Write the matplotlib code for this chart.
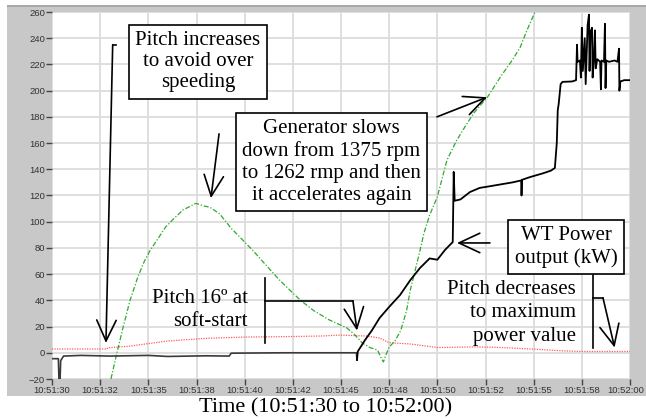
import numpy as np
import matplotlib
matplotlib.use("Agg")
import matplotlib.pyplot as plt
from matplotlib.patches import Rectangle
from matplotlib.transforms import ScaledTranslation

# series (time in s after 10:51:30)
green_t = [3.06, 3.37, 3.7, 4.05, 4.46, 4.8, 5.09, 5.45, 5.9, 6.23, 6.8, 7.47, 7.9, 8.2, 8.7,
           9.3, 9.9, 10.43, 11.1, 11.8, 12.4, 12.9, 13.6, 14.4, 15.3, 15.7, 16.1, 16.5, 16.9,
           17.05, 17.2, 17.35, 17.5, 17.8, 18.1, 18.4, 18.6, 18.85, 19.1, 19.3, 19.6, 20.0,
           20.5, 21.0, 21.5, 21.9, 22.6, 23.3, 23.9, 24.3, 24.65, 25.07]
green_v = [-20, 0, 20, 40, 58, 70, 78, 86, 96, 101, 109, 114, 112, 111, 106,
           95, 86, 78, 67, 55.6, 47, 40, 32, 25, 19, 14, 7.5, 4, 2,
           -3, -7, -1, 4.4, 9, 17, 32, 48, 63, 78, 91, 105, 119,
           147, 162, 174, 183, 195, 211, 223.5, 233, 246, 260]

red_t = [0, 2.85, 2.9, 4.0, 5.0, 6.0, 7.0, 8.0, 9.0, 10, 12, 14, 14.9, 16.3, 17.0, 17.5,
         18.6, 20.0, 22, 23, 24, 25, 26.5, 27.5, 30]
red_v = [2.9, 2.9, 3.8, 5, 7, 9, 10, 11, 11.5, 12, 12.3, 12.8, 13.5, 12.8, 11.3, 7.7,
         6.7, 4, 4.5, 4.2, 3.5, 2.8, 1.5, 1, 1]

power_t = [0, 0.33, 0.36, 0.42, 0.45, 0.6, 1.5, 3, 5, 6, 8, 9.2, 9.3, 12, 15.8,
           15.83, 15.87, 16.25, 16.6, 17.0, 17.5, 18.06, 18.6, 19.1, 19.6, 20.0, 20.4, 20.8,
           20.85, 20.9, 21.2, 21.7, 22.2, 22.7, 23.1, 23.5, 23.9, 24.35, 24.37, 24.4, 24.8,
           25.5, 25.9, 26.1, 26.2, 26.25, 26.3, 26.4, 26.5, 27.0, 27.2, 27.25, 27.28, 27.4,
           27.45, 27.5, 27.55, 27.65, 27.7, 27.8, 27.87, 27.9, 27.95, 28.03, 28.06, 28.12,
           28.18, 28.22, 28.3, 28.45, 28.49, 28.52, 28.65, 28.7, 28.73, 28.77, 28.91, 29.2,
           29.35, 29.43, 29.45, 29.5, 29.7, 30]
power_v = [-4.5, -4.5, -20, -20, -6, -2.5, -2, -2.5, -2, -2.8, -2.3, -2.5, -0.3, 0, 0,
           -5.5, 1, 9.8, 17, 26.5, 35, 44, 55.5, 64.7, 72, 71, 78.5, 84.5,
           138, 116, 117, 122.7, 125.8, 127, 128, 129, 130, 131.5, 120, 132, 134,
           137, 139, 141, 160, 185, 190, 205, 206.7, 207, 208, 235, 222, 223,
           210, 248, 215, 240, 205, 250, 258, 215, 245, 248, 210, 223,
           246, 217, 224, 222, 201, 223, 222, 251, 202, 223, 222, 223,
           222, 232, 200, 207, 208, 208]

xtick_labels = ["10:51:30", "10:51:32", "10:51:35", "10:51:38", "10:51:40", "10:51:42",
                "10:51:45", "10:51:48", "10:51:50", "10:51:52", "10:51:55", "10:51:58",
                "10:52:00"]

W, H = 646, 419
fig = plt.figure(figsize=(W / 100, H / 100), dpi=100)

def px_box(x0, y0, x1, y1):
    return [x0 / W, 1 - y1 / H, (x1 - x0) / W, (y1 - y0) / H]

# grey instrument frame
fig.add_artist(Rectangle((7 / W, 1 - 396 / H), 639 / W, 391 / H, transform=fig.transFigure,
                         fc="#c8c8c8", ec="none", zorder=-2))
fig.add_artist(Rectangle((7 / W, 1 - 7 / H), 639 / W, 2 / H, transform=fig.transFigure,
                         fc="#a8a8a8", ec="none", zorder=-1))

ax = fig.add_axes(px_box(52, 12, 630, 379))
ax.set_facecolor("white")

power_t = np.array(power_t)
power_v = np.array(power_v)
early = power_t <= 15.83
late = power_t >= 15.83
ax.plot(power_t[early], power_v[early], color="#3a3a3a", lw=1.2, zorder=4)
ax.plot(power_t[late], power_v[late], color="black", lw=1.3, zorder=4)
ax.plot(red_t, red_v, color="#ff5a5a", lw=0.9, ls=(0, (1, 1)), zorder=3)
ax.plot(green_t, green_v, color="#2eaa2e", lw=0.9, ls=(0, (4, 1.5, 1, 1.5)), zorder=3)

ax.set_xlim(0, 30)
ax.set_ylim(-20, 260)
ax.set_xticks(np.linspace(0, 30, 13))
ax.set_xticklabels(xtick_labels)
ax.set_yticks(np.arange(-20, 261, 20))
ax.grid(color="#dcdcdc", lw=1.3)
ax.set_axisbelow(True)
for s in ax.spines.values():
    s.set_visible(False)
ax.tick_params(axis="both", labelsize=6.8, colors="#444444", length=4, width=1, pad=1)
for lab in ax.get_xticklabels() + ax.get_yticklabels():
    lab.set_family(["Liberation Sans Narrow", "Liberation Sans", "DejaVu Sans"])
    lab.set_color("#333333")
# keep the last time label inside the picture
last = ax.get_xticklabels()[-1]
last.set_transform(last.get_transform() + ScaledTranslation(-4 / 100, 0, fig.dpi_scale_trans))

serif = "Liberation Serif"
fs = 15
box = dict(boxstyle="square,pad=0.3", fc="white", ec="black", lw=1.2)
head = dict(arrowstyle="->,head_length=1.5,head_width=0.7", color="black", lw=1.2,
            shrinkA=0, shrinkB=0, mutation_scale=10)

def arrow(pts):
    xs = [p[0] for p in pts]
    ys = [p[1] for p in pts]
    if len(pts) > 2:
        ax.plot(xs[:-1], ys[:-1], color="black", lw=1.2, zorder=6, clip_on=False)
    ax.annotate("", xy=pts[-1], xytext=pts[-2], arrowprops=head, zorder=6)

ax.text(7.58, 222, "Pitch increases\nto avoid over\nspeeding", ha="center", va="center",
        fontsize=fs, family=serif, bbox=box, zorder=7, linespacing=1.15)
arrow([(3.3, 235), (3.15, 235), (2.8, 7.5)])
arrow([(8.67, 167), (8.25, 118)])

ax.text(14.51, 145.6, "Generator slows\ndown from 1375 rpm\nto 1262 rmp and then\nit accelerates again",
        ha="center", va="center", fontsize=fs, family=serif, bbox=box, zorder=7)
arrow([(19.98, 180), (22.58, 195)])

ax.text(10.17, 32.7, "Pitch 16º at\nsoft-start", ha="right", va="center", multialignment="right",
        fontsize=fs, family=serif, zorder=7, linespacing=1.3)
ax.plot([11.06, 11.06], [57, 7.5], color="black", lw=1.2, zorder=6)
arrow([(11.06, 39.5), (15.62, 39.5), (15.83, 17)])

ax.text(26.68, 80.7, "WT Power\noutput (kW)", ha="center", va="center",
        fontsize=fs, family=serif, bbox=box, zorder=7)
arrow([(22.73, 83.8), (21.02, 83.8)])

ax.text(27.2, 30.5, "Pitch decreases\nto maximum\npower value", ha="right", va="center",
        multialignment="right", fontsize=fs, family=serif, zorder=7, linespacing=1.32)
ax.plot([28.07, 28.07], [59.4, 3.7], color="black", lw=1.2, zorder=6)
arrow([(28.07, 41.8), (28.6, 41.8), (29.2, 4)])

fig.text(326 / W, 1 - 408 / H, "Time (10:51:30 to 10:52:00)", ha="center", va="center",
         fontsize=16, family=serif)

fig.savefig("out.png", dpi=100)
